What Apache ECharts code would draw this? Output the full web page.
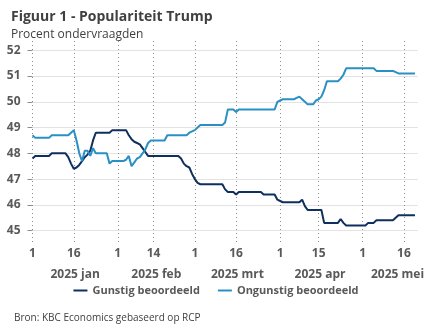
<!DOCTYPE html>
<html><head><meta charset="utf-8">
<script src="https://cdn.jsdelivr.net/npm/echarts@6/dist/echarts.min.js"></script>
<style>html,body{margin:0;padding:0;background:#fff}#c{width:432px;height:334px}</style>
</head><body><div id="c"></div>
<script>
// ---- data ----
const gunstigDates = ['2025-01-01','2025-01-02','2025-01-07','2025-01-08','2025-01-13','2025-01-14','2025-01-15','2025-01-16','2025-01-17','2025-01-18','2025-01-19','2025-01-20','2025-01-21','2025-01-22','2025-01-23','2025-01-24','2025-01-29','2025-01-30','2025-02-04','2025-02-05','2025-02-06','2025-02-07','2025-02-08','2025-02-09','2025-02-10','2025-02-11','2025-02-12','2025-02-23','2025-02-24','2025-02-25','2025-02-26','2025-02-27','2025-02-28','2025-03-01','2025-03-02','2025-03-03','2025-03-11','2025-03-12','2025-03-13','2025-03-15','2025-03-16','2025-03-17','2025-03-25','2025-03-26','2025-03-30','2025-03-31','2025-04-01','2025-04-02','2025-04-08','2025-04-09','2025-04-10','2025-04-11','2025-04-16','2025-04-17','2025-04-22','2025-04-23','2025-04-24','2025-04-25','2025-05-02','2025-05-03','2025-05-05','2025-05-06','2025-05-12','2025-05-13','2025-05-14','2025-05-20'];
const gunstigValues = [47.8,47.9,47.9,48.0,48.0,47.85,47.6,47.4,47.45,47.55,47.7,47.85,47.95,48.1,48.5,48.8,48.8,48.9,48.9,48.7,48.55,48.45,48.4,48.35,48.2,48.05,47.9,47.9,47.8,47.6,47.5,47.45,47.2,47.0,46.85,46.8,46.8,46.6,46.5,46.5,46.4,46.5,46.5,46.4,46.4,46.2,46.15,46.1,46.1,46.2,45.95,45.8,45.8,45.3,45.3,45.45,45.3,45.2,45.2,45.3,45.3,45.4,45.4,45.5,45.6,45.6];

const ongunstigDates = ['2025-01-01','2025-01-02','2025-01-07','2025-01-08','2025-01-14','2025-01-15','2025-01-16','2025-01-17','2025-01-18','2025-01-19','2025-01-20','2025-01-21','2025-01-22','2025-01-23','2025-01-24','2025-01-28','2025-01-29','2025-01-30','2025-02-03','2025-02-04','2025-02-05','2025-02-06','2025-02-07','2025-02-08','2025-02-09','2025-02-10','2025-02-11','2025-02-12','2025-02-13','2025-02-18','2025-02-19','2025-02-26','2025-02-27','2025-02-28','2025-03-01','2025-03-02','2025-03-03','2025-03-11','2025-03-12','2025-03-13','2025-03-15','2025-03-16','2025-03-17','2025-03-30','2025-03-31','2025-04-01','2025-04-02','2025-04-06','2025-04-07','2025-04-08','2025-04-09','2025-04-10','2025-04-11','2025-04-13','2025-04-14','2025-04-15','2025-04-16','2025-04-17','2025-04-18','2025-04-22','2025-04-23','2025-04-24','2025-04-25','2025-05-05','2025-05-06','2025-05-12','2025-05-13','2025-05-14','2025-05-20'];
const ongunstigValues = [48.7,48.6,48.6,48.7,48.7,48.8,48.9,48.5,48.0,47.7,48.1,48.1,47.9,48.2,48.0,48.0,47.6,47.7,47.7,47.75,47.9,47.5,47.65,47.8,47.85,48.0,48.15,48.4,48.5,48.5,48.7,48.7,48.8,48.85,48.9,49.0,49.1,49.1,49.2,49.7,49.7,49.6,49.7,49.7,50.0,50.05,50.1,50.1,50.15,50.2,50.1,50.0,49.9,49.9,50.05,50.1,50.2,50.45,50.8,50.8,50.9,51.05,51.3,51.3,51.2,51.2,51.15,51.1,51.1];

const tickDates = ['2025-01-01','2025-01-16','2025-02-01','2025-02-14','2025-03-01','2025-03-16','2025-04-01','2025-04-15','2025-05-01','2025-05-16'];
const tickLabels = ['1','16','1','14','1','16','1','15','1','16'];
const monthLabels = ['2025 jan','2025 feb','2025 mrt','2025 apr','2025 mei'];
const monthLabelDates = ['2025-01-16T12:00','2025-02-15T00:00','2025-03-16T12:00','2025-04-15T12:00','2025-05-13T16:00'];
const yTicks = [45,46,47,48,49,50,51,52];
const seriesNames = ['Gunstig beoordeeld','Ongunstig beoordeeld'];

// ---- helpers ----
const t0 = Date.UTC(2025,0,1);
function dayIdx(s){
  const parts = s.split('T');
  const [y,m,d] = parts[0].split('-').map(Number);
  let h = 0;
  if (parts[1]) { const [hh,mm] = parts[1].split(':').map(Number); h = hh + mm/60; }
  return (Date.UTC(y,m-1,d) - t0)/86400000 + h/24;
}
const tickPos = tickDates.map(dayIdx);
const monthPos = monthLabelDates.map(dayIdx);
function nearestLabel(v, pos, labels){
  let bi = 0, bd = Infinity;
  pos.forEach((p,i)=>{ const d = Math.abs(p-v); if (d<bd){bd=d;bi=i;} });
  return labels[bi];
}
const FONT = '"Open Sans", "Noto Sans", sans-serif';
const LBL = '#595959';

const chart = echarts.init(document.getElementById('c'), null, {renderer:'canvas'});
chart.setOption({
  animation: false,
  textStyle: {fontFamily: FONT},
  title: [
    {text: 'Figuur 1 - Populariteit Trump', left: 6, top: 5,
     textStyle: {fontSize: 14, fontWeight: 'bold', color: '#404040', fontFamily: FONT}},
    {text: 'Procent ondervraagden', left: 6, top: 24,
     textStyle: {fontSize: 12, fontWeight: 'normal', color: '#404040', fontFamily: FONT}},
    {text: 'Bron: KBC Economics gebaseerd op RCP', left: 9, top: 308,
     textStyle: {fontSize: 10, fontWeight: 'normal', color: '#404040', fontFamily: FONT}}
  ],
  legend: {
    bottom: 33, left: 'center', itemWidth: 14, itemHeight: 2, itemGap: 18,
    icon: 'rect',
    textStyle: {fontSize: 11, fontWeight: 'bold', color: LBL, fontFamily: FONT},
    data: seriesNames
  },
  grid: {left: 32.5, right: 14.3, top: 41, bottom: 90, containLabel: false, outerBoundsMode: 'none'},
  xAxis: [{
    type: 'value', min: 0, max: 140,
    axisLine: {show: false},
    axisTick: {show: false, customValues: tickPos},
    axisLabel: {customValues: tickPos, margin: 4, fontSize: 12, fontWeight: 'bold', color: LBL, fontFamily: FONT,
      formatter: v => nearestLabel(v, tickPos, tickLabels)},
    splitLine: {show: true, lineStyle: {color: '#8c8c8c', width: 1, type: [1,3]}}
  },{
    type: 'value', min: 0, max: 140, position: 'bottom', offset: 21,
    axisLine: {show: false},
    axisTick: {show: false, customValues: monthPos},
    axisLabel: {customValues: monthPos, margin: 4, fontSize: 12, fontWeight: 'bold', color: LBL, fontFamily: FONT,
      formatter: v => nearestLabel(v, monthPos, monthLabels)},
    splitLine: {show: false}
  }],
  yAxis: {
    type: 'value', min: 44.48, max: 52.36,
    axisLine: {show: false},
    axisTick: {show: true, customValues: yTicks, length: 5, lineStyle: {color: '#8c8c8c'}},
    axisLabel: {customValues: yTicks, margin: 12, fontSize: 12, fontWeight: 'bold', color: LBL, fontFamily: FONT},
    splitLine: {show: true, lineStyle: {color: '#e3e3e3', width: 1}}
  },
  series: [
    {name: seriesNames[0], type: 'line', showSymbol: false, xAxisIndex: 0,
     data: gunstigDates.map((d,i)=>[dayIdx(d), gunstigValues[i]]),
     lineStyle: {color: '#0f2f5e', width: 2}, itemStyle: {color: '#0f2f5e'}},
    {name: seriesNames[1], type: 'line', showSymbol: false, xAxisIndex: 0,
     data: ongunstigDates.map((d,i)=>[dayIdx(d), ongunstigValues[i]]),
     lineStyle: {color: '#2a90c3', width: 2}, itemStyle: {color: '#2a90c3'}}
  ]
});
</script></body></html>
